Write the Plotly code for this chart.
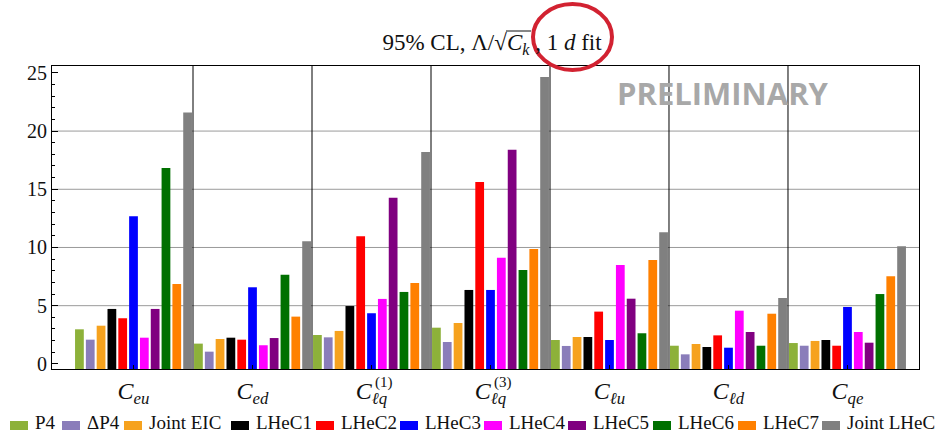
import plotly.graph_objects as go

# Wilson coefficients (x categories)
coeff_sub = ["eu", "ed", "ℓq", "ℓq", "ℓu", "ℓd", "qe"]
coeff_sup = ["", "", "(1)", "(3)", "", "", ""]

series = ["P4", "ΔP4", "Joint EIC", "LHeC1", "LHeC2", "LHeC3",
          "LHeC4", "LHeC5", "LHeC6", "LHeC7", "Joint LHeC"]
colors = ["#8DB13A", "#8A7DBA", "#F6A21E", "#000000", "#FF0000", "#0000FF",
          "#FF00FF", "#800080", "#007000", "#FF8000", "#808080"]

# 95% CL bounds on Lambda/sqrt(C_k) in TeV, one list per scenario
p4        = [2.97, 1.74, 2.48, 3.11, 2.05, 1.56, 1.79]
dp4       = [2.08, 1.05, 2.28, 1.88, 1.54, 0.82, 1.56]
joint_eic = [3.28, 2.14, 2.83, 3.51, 2.31, 1.71, 1.97]
lhec1     = [4.72, 2.25, 4.97, 6.35, 2.31, 1.45, 2.05]
lhec2     = [3.92, 2.08, 10.96, 15.63, 4.49, 2.45, 1.56]
lhec3     = [12.68, 6.58, 4.35, 6.35, 2.05, 1.39, 4.89]
lhec4     = [2.25, 1.60, 5.58, 9.12, 8.50, 4.57, 2.74]
lhec5     = [4.72, 2.22, 14.28, 18.40, 5.60, 2.74, 1.82]
lhec6     = [16.83, 7.66, 6.18, 8.07, 2.63, 1.56, 6.00]
lhec7     = [6.86, 4.06, 6.95, 9.87, 8.93, 4.31, 7.53]
joint_lhec = [21.60, 10.53, 18.20, 24.65, 11.30, 5.66, 10.10]

values = [p4, dp4, joint_eic, lhec1, lhec2, lhec3, lhec4, lhec5,
          lhec6, lhec7, joint_lhec]

y_ticks = [0, 5, 10, 15, 20, 25]
grid_levels = [5, 10, 15, 20]

Y_MIN, Y_MAX = -0.44, 25.59
X_MIN, X_MAX = -0.685, 6.601

W, H = 938, 433
ML, MR, MT, MB = 52, 19, 66, 64
PW, PH = W - ML - MR, H - MT - MB

SERIF = "Liberation Serif"
INK = "#111111"


def px_x(px):
    return (px - ML) / PW


def px_y(py):
    return (H - MB - py) / PH


xs = list(range(len(coeff_sub)))

fig = go.Figure()
for name, col, vals in zip(series, colors, values):
    # bars rise from the bottom of the frame; the top sits at the value
    fig.add_trace(go.Bar(
        x=xs, y=[v - Y_MIN for v in vals], base=Y_MIN, name=name,
        marker=dict(color=col, line=dict(width=0)),
        showlegend=False,
        customdata=vals, hovertemplate=name + ": %{customdata}<extra></extra>",
    ))

shapes = []
# horizontal grid
for g in grid_levels:
    shapes.append(dict(type="line", xref="paper", yref="y", x0=0, x1=1, y0=g, y1=g,
                       line=dict(color="#9a9a9a", width=1), layer="below"))
# group separators
for i in range(len(xs) - 1):
    shapes.append(dict(type="line", xref="x", yref="paper", x0=i + 0.5, x1=i + 0.5,
                       y0=0, y1=1, line=dict(color="#000000", width=1), layer="below"))

# square-root bar over C_k in the title
shapes.append(dict(type="line", xref="paper", yref="paper",
                   x0=px_x(506), x1=px_x(531), y0=px_y(31), y1=px_y(31),
                   line=dict(color=INK, width=1)))

# red circle around the fit label
shapes.append(dict(type="circle", xref="paper", yref="paper",
                   x0=px_x(533), x1=px_x(612), y0=px_y(70), y1=px_y(4),
                   line=dict(color="#D22231", width=4)))

annotations = []
# superscripts of the stacked tick labels
for i, sup in enumerate(coeff_sup):
    if sup:
        annotations.append(dict(x=i, y=px_y(383), xref="x", yref="paper",
                                text=sup, showarrow=False, xanchor="left",
                                yanchor="middle", xshift=1,
                                font=dict(family=SERIF, size=15, color=INK)))

# watermark
annotations.append(dict(x=px_x(723), y=px_y(93), xref="paper", yref="paper",
                        text="PRELIMINARY", showarrow=False,
                        xanchor="center", yanchor="middle",
                        font=dict(family="Open Sans", size=31,
                                  color="#A8A8A8", weight=700)))

# legend drawn as swatches + labels
legend_left = [10, 62, 124, 231, 316, 400, 484, 568, 653, 738, 822]
for name, col, lx in zip(series, colors, legend_left):
    shapes.append(dict(type="rect", xref="paper", yref="paper",
                       x0=px_x(lx), x1=px_x(lx + 18), y0=px_y(430), y1=px_y(421),
                       fillcolor=col, line=dict(width=0)))
    annotations.append(dict(x=px_x(lx + 23), y=px_y(422), xref="paper", yref="paper",
                            text=name, showarrow=False, xanchor="left", yanchor="middle",
                            font=dict(family=SERIF, size=19, color=INK)))

fig.update_layout(
    width=W, height=H,
    margin=dict(l=ML, r=MR, t=MT, b=MB),
    plot_bgcolor="white", paper_bgcolor="white",
    barmode="group", bargap=0, bargroupgap=0.19,
    title=dict(
        text="95% CL, Λ/√<i>C</i><sub><i>k</i></sub> , 1 <i>d</i> fit",
        xref="paper", x=px_x(492), xanchor="center",
        y=1 - 42 / H, yanchor="middle",
        font=dict(family=SERIF, size=23, color=INK),
    ),
    xaxis=dict(
        range=[X_MIN, X_MAX], tickvals=xs,
        ticktext=[f"<i>C</i><sub><i>{s}</i></sub>" for s in coeff_sub],
        ticks="inside", ticklen=4, tickcolor="black",
        showgrid=False, zeroline=False,
        showline=True, linecolor="black", linewidth=1, mirror=True,
        tickfont=dict(family=SERIF, size=24, color=INK),
    ),
    yaxis=dict(
        range=[Y_MIN, Y_MAX], tickvals=y_ticks,
        ticks="inside", ticklen=6, tickcolor="black",
        minor=dict(dtick=1, tick0=0, ticks="inside", ticklen=3, tickcolor="black"),
        showgrid=False, zeroline=False,
        showline=True, linecolor="black", linewidth=1, mirror=True,
        tickfont=dict(family=SERIF, size=20, color=INK),
    ),
    shapes=shapes, annotations=annotations,
)

fig.write_html("out.html")
